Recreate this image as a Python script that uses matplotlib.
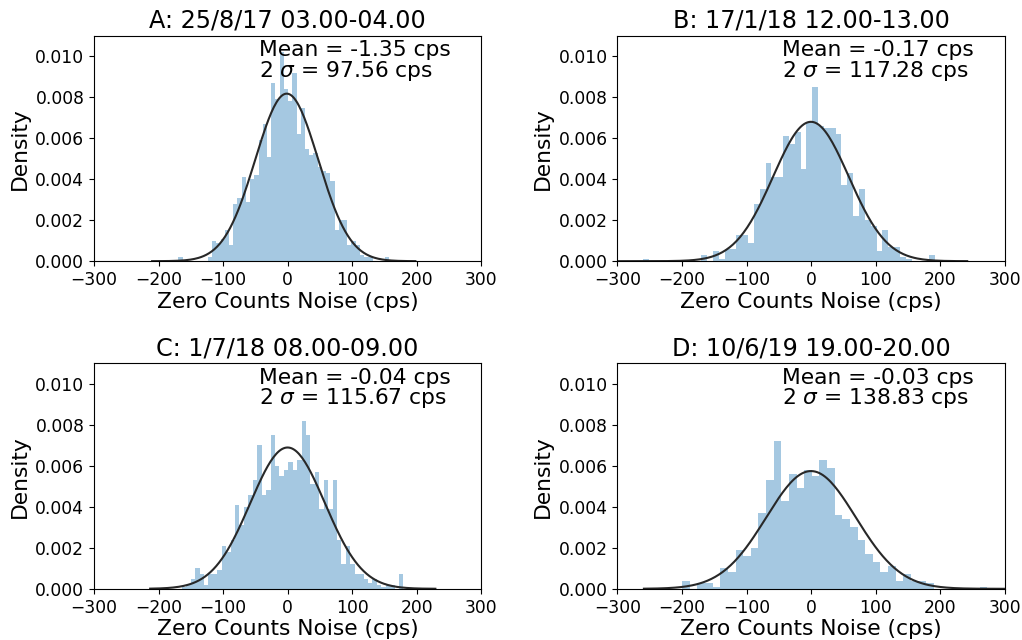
import numpy as np
import matplotlib
matplotlib.use("Agg")
import matplotlib.pyplot as plt

# panel titles and fit statistics (mean, 2 sigma)
titles = ["A: 25/8/17 03.00-04.00", "B: 17/1/18 12.00-13.00",
          "C: 1/7/18 08.00-09.00", "D: 10/6/19 19.00-20.00"]
means = [-1.35, -0.17, -0.04, -0.03]
two_sigmas = [97.56, 117.28, 115.67, 138.83]

# histogram data range (first / last bin edge) and bin densities
a_range = (-169.3, 157.9)
a_density = [0.0002, 0, 0, 0, 0, 0, 0, 0.0002, 0.0010, 0.0009,
             0.0011, 0.0015, 0.0008, 0.0028, 0.0031, 0.0041, 0.0029, 0.0040, 0.0042, 0.0059,
             0.0067, 0.0051, 0.0087, 0.0079, 0.0102, 0.0084, 0.0078, 0.0092, 0.0062, 0.0075,
             0.0055, 0.0052, 0.0053, 0.0046, 0.0044, 0.0043, 0.0039, 0.0015, 0.0020, 0.0020,
             0.0008, 0.0010, 0.0008, 0.0003, 0.0002, 0.0002, 0, 0, 0, 0.0002]

b_range = (-260.7, 192.0)
b_density = [0.0001, 0, 0, 0, 0, 0, 0, 0, 0, 0,
             0.0003, 0, 0.0005, 0.0001, 0.0006, 0.0006, 0.0013, 0.0013, 0.0009, 0.0028,
             0.0035, 0.0048, 0.0041, 0.0041, 0.0061, 0.0057, 0.0063, 0.0045, 0.0068, 0.0085,
             0.0066, 0.0065, 0.0065, 0.0062, 0.0037, 0.0043, 0.0022, 0.0035, 0.0020, 0.0017,
             0.0005, 0.0015, 0.0007, 0.0007, 0.0002, 0.0001, 0, 0, 0, 0.0003]

c_range = (-163.9, 179.6)
c_density = [0.0001, 0.0002, 0.0005, 0.0010, 0.0007, 0.0002, 0.0007, 0.0007, 0.0009, 0.0021,
             0.0018, 0.0024, 0.0041, 0.0031, 0.0040, 0.0046, 0.0053, 0.0070, 0.0046, 0.0048,
             0.0075, 0.0060, 0.0055, 0.0058, 0.0062, 0.0058, 0.0063, 0.0082, 0.0075, 0.0051,
             0.0057, 0.0039, 0.0053, 0.0039, 0.0053, 0.0024, 0.0012, 0.0021, 0.0012, 0.0007,
             0.0007, 0.0005, 0.0003, 0.0005, 0.0002, 0.0001, 0.0002, 0.0002, 0, 0.0007]

d_range = (-199.7, 273.1)
d_density = [0.0004, 0, 0.0003, 0.0003, 0.0001, 0.0010, 0.0008, 0.0019, 0.0016, 0.0020,
             0.0037, 0.0053, 0.0072, 0.0043, 0.0056, 0.0049, 0.0058, 0.0055, 0.0063, 0.0059,
             0.0036, 0.0034, 0.0030, 0.0024, 0.0017, 0.0013, 0.0008, 0.0011, 0.0004, 0.0007,
             0.0004, 0.0004, 0.0003, 0, 0, 0, 0, 0, 0, 0.0001]

# extent of the fitted normal curve
fit_limits = [(-210, 198), (-305, 242), (-213, 229), (-259, 335)]

ranges = [a_range, b_range, c_range, d_range]
densities = [a_density, b_density, c_density, d_density]

fig, axes = plt.subplots(2, 2, figsize=(10.22, 6.4), dpi=100)
fig.subplots_adjust(left=0.092, right=0.983, top=0.944, bottom=0.08,
                    wspace=0.352, hspace=0.454)

for ax, title, mu, s2, rng, dens, flim in zip(axes.flat, titles, means, two_sigmas,
                                              ranges, densities, fit_limits):
    dens = np.array(dens)
    edges = np.linspace(rng[0], rng[1], len(dens) + 1)
    centers = 0.5 * (edges[:-1] + edges[1:])
    ax.hist(centers, bins=edges, weights=dens, color="#1f77b4", alpha=0.4)

    sigma = s2 / 2
    xs = np.linspace(flim[0], flim[1], 200)
    pdf = np.exp(-0.5 * ((xs - mu) / sigma) ** 2) / (sigma * np.sqrt(2 * np.pi))
    ax.plot(xs, pdf, color="#282828", lw=1.5)

    ax.set_xlim(-300, 300)
    ax.set_ylim(0, 0.011)
    ax.set_xticks([-300, -200, -100, 0, 100, 200, 300])
    ax.set_yticks([0, 0.002, 0.004, 0.006, 0.008, 0.010])
    ax.yaxis.set_major_formatter(matplotlib.ticker.FormatStrFormatter("%.3f"))
    ax.tick_params(labelsize=12.3)
    ax.set_title(title, fontsize=17.2)
    ax.set_xlabel("Zero Counts Noise (cps)", fontsize=15.7, labelpad=2)
    ax.set_ylabel("Density", fontsize=15.7)

    ax.text(-45, 0.0100, "Mean = %.2f cps" % mu, fontsize=15.7, va="baseline")
    ax.text(-45, 0.0090, r"2 $\sigma$ = %.2f cps" % s2, fontsize=15.7, va="baseline")

fig.savefig("out.png", dpi=100)
